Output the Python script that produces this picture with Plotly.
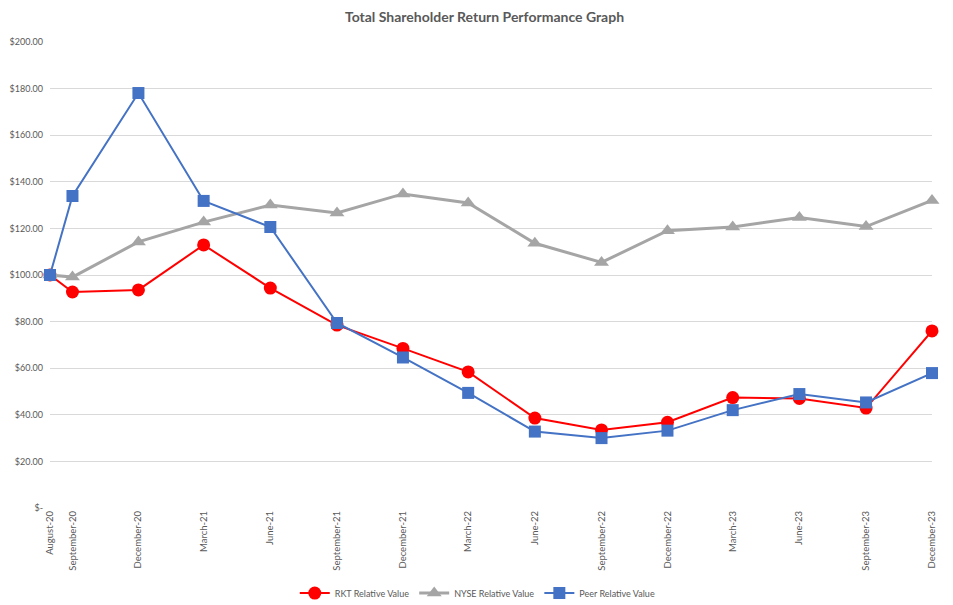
import plotly.graph_objects as go

dates = ['2020-08-01', '2020-09-01', '2020-12-01', '2021-03-01', '2021-06-01',
         '2021-09-01', '2021-12-01', '2022-03-01', '2022-06-01', '2022-09-01',
         '2022-12-01', '2023-03-01', '2023-06-01', '2023-09-01', '2023-12-01']
date_labels = ['August-20', 'September-20', 'December-20', 'March-21', 'June-21',
               'September-21', 'December-21', 'March-22', 'June-22', 'September-22',
               'December-22', 'March-23', 'June-23', 'September-23', 'December-23']

rkt = [100.0, 92.7, 93.6, 112.9, 94.4, 78.5, 68.5, 58.4, 38.6, 33.5,
       36.8, 47.4, 47.0, 42.9, 76.0]
nyse = [100.0, 99.1, 114.2, 122.7, 130.0, 126.6, 134.8, 130.9, 113.6, 105.4,
        119.0, 120.6, 124.7, 120.8, 132.0]
peer = [100.0, 133.9, 178.1, 131.8, 120.6, 79.4, 64.6, 49.4, 32.8, 30.0,
        33.2, 42.0, 48.9, 45.3, 57.9]

y_ticks = [0, 20, 40, 60, 80, 100, 120, 140, 160, 180, 200]
y_labels = ['$-', '$20.00', '$40.00', '$60.00', '$80.00', '$100.00',
            '$120.00', '$140.00', '$160.00', '$180.00', '$200.00']

txt = '#595959'
font = 'Lato, Liberation Sans, sans-serif'

fig = go.Figure()
fig.add_trace(go.Scatter(x=dates, y=rkt, name='RKT Relative Value', mode='lines+markers',
                         line=dict(color='#FF0000', width=2),
                         marker=dict(symbol='circle', size=13, color='#FF0000'),
                         cliponaxis=False))
fig.add_trace(go.Scatter(x=dates, y=nyse, name='NYSE Relative Value', mode='lines+markers',
                         line=dict(color='#A5A5A5', width=3),
                         marker=dict(symbol='triangle-up', size=13, color='#A5A5A5'),
                         cliponaxis=False))
fig.add_trace(go.Scatter(x=dates, y=peer, name='Peer Relative Value', mode='lines+markers',
                         line=dict(color='#4472C4', width=2),
                         marker=dict(symbol='square', size=12, color='#4472C4'),
                         cliponaxis=False))

# page body adds ~8px offset, so margins are shifted to compensate
fig.update_layout(
    width=953, height=605,
    margin=dict(l=42, r=29, t=34, b=105),
    paper_bgcolor='white', plot_bgcolor='white',
    font=dict(family=font, color=txt, size=10),
    title=dict(text='<b>Total Shareholder Return Performance Graph</b>',
               x=0.5, xanchor='center', y=0.985, yanchor='middle',
               font=dict(size=14, color=txt)),
    legend=dict(orientation='h', x=0.485, xanchor='center',
                yref='container', y=0.033, yanchor='middle',
                font=dict(size=9, color=txt), itemwidth=30, tracegroupgap=0),
    showlegend=True,
)
fig.update_xaxes(range=[dates[0], dates[-1]], tickvals=dates, ticktext=date_labels,
                 tickangle=-90, showgrid=False, zeroline=False, showline=False,
                 automargin=False, tickfont=dict(size=9.5, color=txt))
fig.update_yaxes(range=[0, 200], tickvals=y_ticks, ticktext=y_labels,
                 showgrid=True, gridcolor='#D9D9D9', gridwidth=1, zeroline=False,
                 showline=False, ticklabelstandoff=6, automargin=False,
                 tickfont=dict(size=9, color=txt))

fig.write_html("out.html")
